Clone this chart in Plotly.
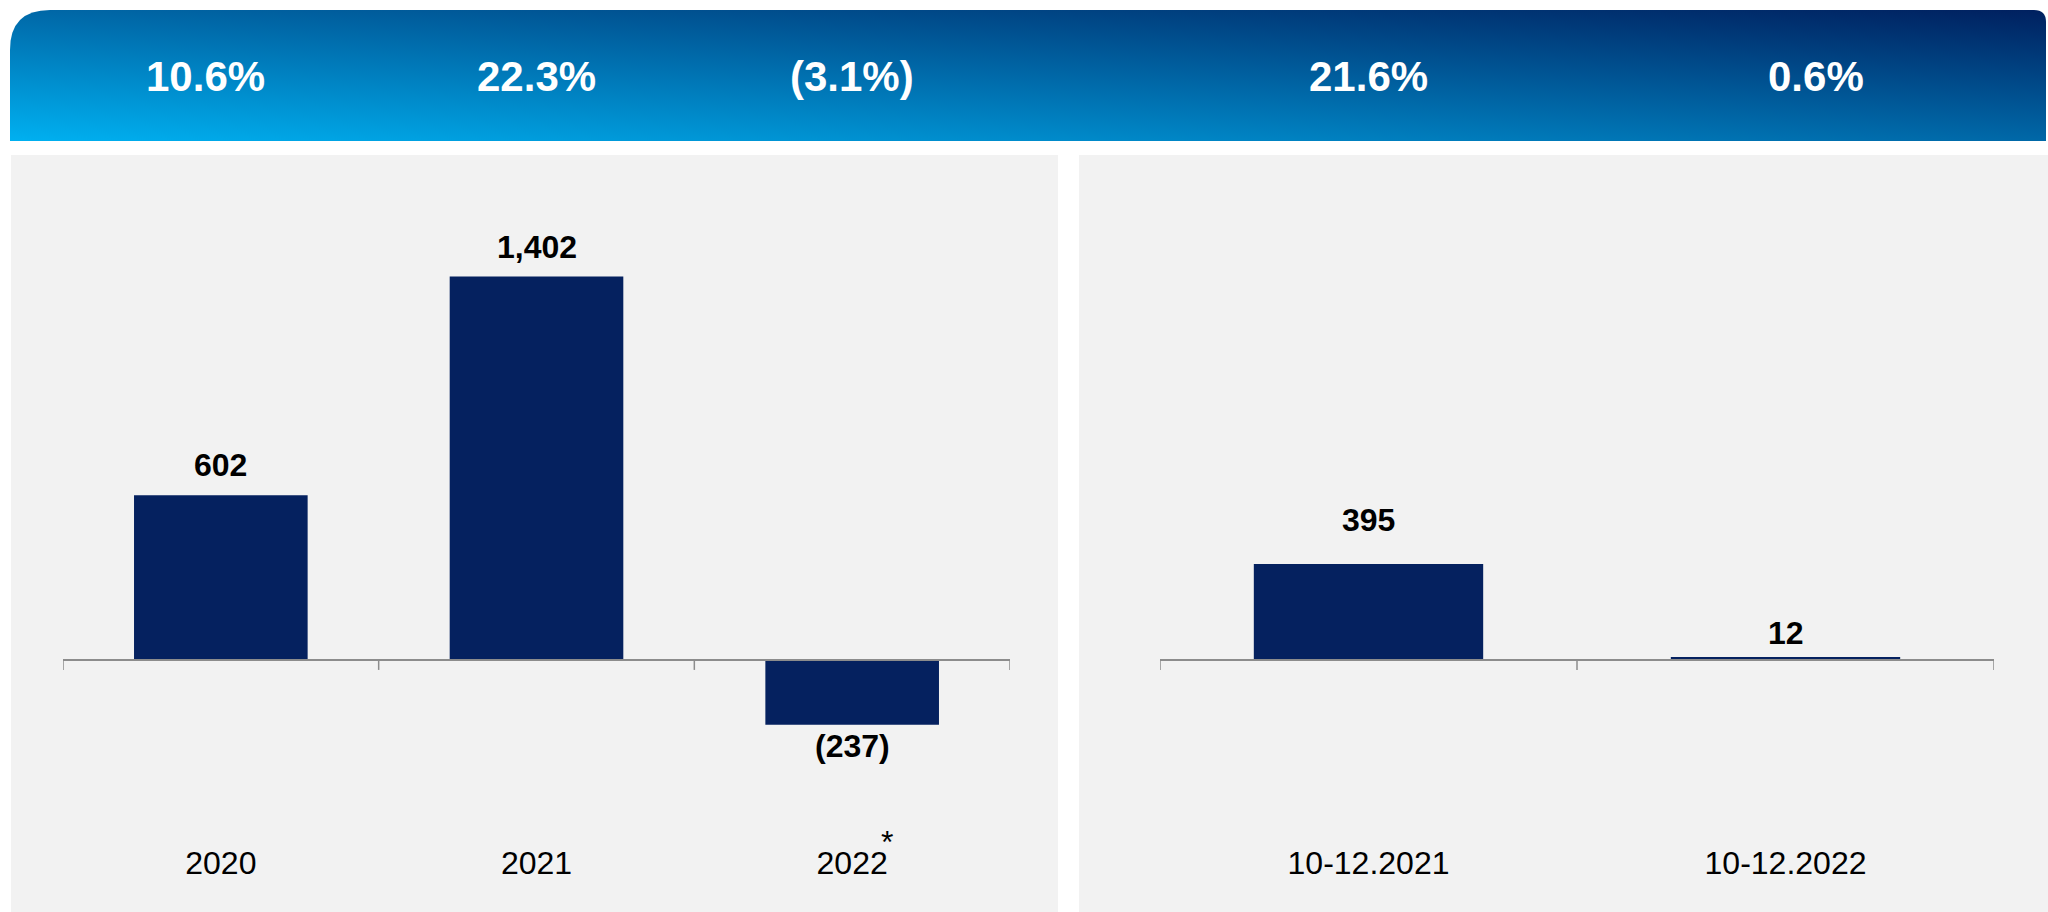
import base64
import plotly.graph_objects as go

# ---------------- data ----------------
years = ["2020", "2021", "2022"]
year_footnote = ["", "", "*"]
year_values = [602, 1402, -237]
year_pct = [10.6, 22.3, -3.1]

quarters = ["10-12.2021", "10-12.2022"]
quarter_values = [395, 12]
quarter_pct = [21.6, 0.6]

# ---------------- style ----------------
W, H = 2048, 912
FONT = "Arial, Liberation Sans, sans-serif"
BAR = "#05215F"
PANEL = "#F2F2F2"
AXIS = "#8C8C8C"
LABEL_SIZE = 32


def fmt_val(v):
    return f"{v:,}" if v >= 0 else f"({abs(v):,})"


def fmt_pct(p):
    return f"{p:.1f}%" if p >= 0 else f"({abs(p):.1f}%)"


# numeric category positions (year strings would be read as numbers by annotations)
year_pos = list(range(len(years)))
quarter_pos = list(range(len(quarters)))

fig = go.Figure()
fig.add_trace(go.Bar(x=year_pos, y=year_values, marker=dict(color=BAR, line=dict(width=0)),
                     xaxis="x", yaxis="y", hoverinfo="skip"))
fig.add_trace(go.Bar(x=quarter_pos, y=quarter_values, marker=dict(color=BAR, line=dict(width=0)),
                     xaxis="x2", yaxis="y2", hoverinfo="skip"))

YDOM = [0.02, 0.83]
Y1_RANGE = [-855, 1846]
Y2_RANGE = [-962, 2078]


def zero_pos(rng):
    return YDOM[0] + (0 - rng[0]) / (rng[1] - rng[0]) * (YDOM[1] - YDOM[0])


xcommon = dict(type="linear", showline=True, linecolor=AXIS, linewidth=2,
               ticks="", showgrid=False, zeroline=False, anchor="free",
               tickfont=dict(family=FONT, size=LABEL_SIZE, color="#000000"),
               ticklabelstandoff=175, fixedrange=True, tickmode="array")

fig.update_layout(
    width=W, height=H,
    margin=dict(l=0, r=0, t=0, b=0),
    paper_bgcolor="#FFFFFF", plot_bgcolor="rgba(0,0,0,0)",
    showlegend=False, bargap=0.45,
    xaxis=dict(domain=[63 / W, 1010 / W], range=[-0.5, len(years) - 0.5], position=zero_pos(Y1_RANGE),
               tickvals=year_pos, ticktext=years, **xcommon),
    xaxis2=dict(domain=[1160 / W, 1994 / W], range=[-0.5, len(quarters) - 0.5],
                position=zero_pos(Y2_RANGE), tickvals=quarter_pos, ticktext=quarters, **xcommon),
    yaxis=dict(domain=YDOM, range=Y1_RANGE, visible=False, fixedrange=True),
    yaxis2=dict(domain=YDOM, range=Y2_RANGE, visible=False, fixedrange=True, anchor="x2"),
)

# background panels
fig.add_shape(type="rect", xref="paper", yref="paper", x0=11 / W, x1=1058 / W, y0=0, y1=1 - 155 / H,
              fillcolor=PANEL, line=dict(width=0), layer="below")
fig.add_shape(type="rect", xref="paper", yref="paper", x0=1079 / W, x1=1, y0=0, y1=1 - 155 / H,
              fillcolor=PANEL, line=dict(width=0), layer="below")

# category boundary ticks (drawn at category edges, like the original)
TICK_PX = 10
for xr, yr, n in (("x", "y", len(years)), ("x2", "y2", len(quarters))):
    for b in range(n + 1):
        fig.add_shape(type="line", xref=xr, yref=yr, ysizemode="pixel", yanchor=0,
                      x0=b - 0.5, x1=b - 0.5, y0=0, y1=-TICK_PX,
                      line=dict(color=AXIS, width=1.5), layer="above")

# footnote markers next to the year labels
for c, fn in zip(year_pos, year_footnote):
    if fn:
        fig.add_annotation(xref="x", yref="paper", x=c, y=1 - 842 / H, text=fn, showarrow=False,
                           xshift=35, yanchor="middle",
                           font=dict(family=FONT, size=LABEL_SIZE, color="#000000"))

# gradient banner
bw, bh = 2036, 131
svg = (f'<svg xmlns="http://www.w3.org/2000/svg" width="{bw}" height="{bh}" viewBox="0 0 {bw} {bh}" '
       f'preserveAspectRatio="none"><defs><linearGradient id="g" x1="0" y1="1" x2="1" y2="0">'
       f'<stop offset="0" stop-color="#00B0F0"/><stop offset="1" stop-color="#00205F"/>'
       f'</linearGradient></defs>'
       f'<path d="M0,{bh} L0,40 Q0,0 40,0 L{bw - 12},0 Q{bw},0 {bw},12 L{bw},{bh} Z" fill="url(#g)"/></svg>')
src = "data:image/svg+xml;base64," + base64.b64encode(svg.encode()).decode()
fig.add_layout_image(dict(source=src, xref="paper", yref="paper", x=10 / W, y=1 - 10 / H,
                          sizex=bw / W, sizey=bh / H, sizing="stretch", xanchor="left",
                          yanchor="top", layer="below"))

# banner percentages
pct_shift = [-15, 0, 0, 0, 30]
banner_items = [("x", c, p) for c, p in zip(year_pos, year_pct)] + \
               [("x2", c, p) for c, p in zip(quarter_pos, quarter_pct)]
for (xr, c, p), sh in zip(banner_items, pct_shift):
    fig.add_annotation(xref=xr, yref="paper", x=c, y=1 - 76 / H, text=f"<b>{fmt_pct(p)}</b>",
                       showarrow=False, xshift=sh, yanchor="middle",
                       font=dict(family=FONT, size=42, color="#FFFFFF"))

# value labels
left_shift = [30, 29, -21]
for c, v, sh in zip(year_pos, year_values, left_shift):
    fig.add_annotation(xref="x", yref="y", x=c, y=v, text=f"<b>{fmt_val(v)}</b>", showarrow=False,
                       yanchor="middle", yshift=sh,
                       font=dict(family=FONT, size=LABEL_SIZE, color="#000000"))
right_shift = [44, 24]
for c, v, sh in zip(quarter_pos, quarter_values, right_shift):
    fig.add_annotation(xref="x2", yref="y2", x=c, y=v, text=f"<b>{fmt_val(v)}</b>", showarrow=False,
                       yanchor="middle", yshift=sh,
                       font=dict(family=FONT, size=LABEL_SIZE, color="#000000"))

fig.write_html("out.html", config={"displayModeBar": False, "staticPlot": True},
               post_script="document.body.style.margin='0';document.body.style.overflow='hidden';")
